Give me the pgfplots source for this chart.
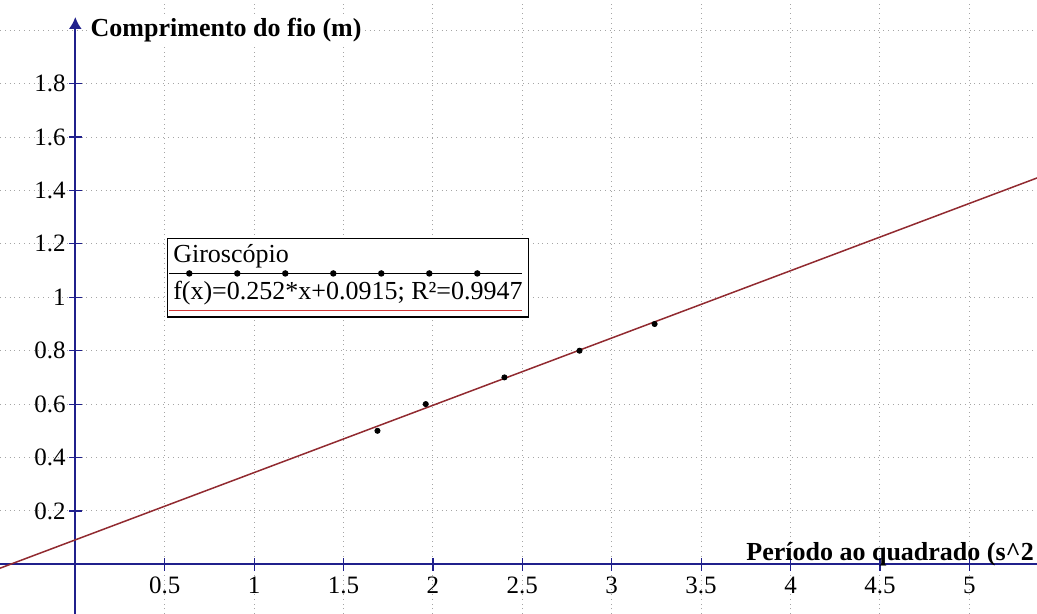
\documentclass[border=0pt]{standalone}
\usepackage{fontspec}
\setmainfont{Liberation Serif}
\usepackage{pgfplots}
\pgfplotsset{compat=1.18}
\usetikzlibrary{arrows.meta}

\definecolor{axisblue}{RGB}{32,32,140}
\definecolor{gridgray}{RGB}{165,165,165}
\definecolor{fitred}{RGB}{145,42,48}
\definecolor{legred}{RGB}{210,55,55}

% measured data: squared period (s^2) vs wire length (m)
\pgfplotstableread{
T2    L
1.69  0.50
1.96  0.60
2.40  0.70
2.82  0.80
3.24  0.90
}\giroscopio

% linear fit f(x)=0.252x+0.0915 evaluated at the ends of the window
\pgfplotstableread{
T2     L
-0.45  -0.0219
5.45   1.4649
}\ajuste

\begin{document}
\begin{tikzpicture}
\begin{axis}[
  name=ax,
  scale only axis,
  width=518.5pt, height=307pt,
  xmin=-0.4211, xmax=5.3786,
  ymin=-0.1861, ymax=2.1135,
  axis lines=middle,
  x axis line style={-, draw=axisblue, line width=1pt},
  y axis line style={-{Latex[length=6pt,width=6.5pt]}, draw=axisblue, line width=1pt, shorten >=8.5pt},
  xtick={0.5,1,1.5,2,2.5,3,3.5,4,4.5,5},
  ytick={0.2,0.4,0.6,0.8,1,1.2,1.4,1.6,1.8},
  extra y ticks={2},
  extra y tick labels={},
  extra y tick style={major tick length=0pt},
  tick align=center,
  major tick length=6.5pt,
  tick style={draw=axisblue, line width=0.6pt},
  grid=major,
  major grid style={draw=gridgray, dotted, line width=0.5pt},
  /pgf/number format/assume math mode=true,
  ticklabel style={font=\fontsize{12.5}{14}\selectfont, text=black},
  xticklabel style={anchor=north, yshift=0.5pt},
  yticklabel style={anchor=east, xshift=2pt},
  legend style={
    at={(axis cs:0.511,1.221)}, anchor=north west,
    draw=black, line width=0.6pt, fill=white,
    font=\fontsize{13}{15.6}\selectfont,
    inner xsep=1pt, inner ysep=1pt,
    row sep=1pt, column sep=0pt,
    cells={anchor=west, inner xsep=0.5pt},
  },
  legend cell align=left,
]
\addplot[only marks, mark=*, mark size=1.3pt, black,
  legend image code/.code={
    \draw[overlay, black, line width=0.5pt] (0pt,-9pt) -- (176.5pt,-9pt);
    \foreach \p in {10,34,58,82,106,130,154}
      \fill[overlay, black] (\p pt,-9pt) circle (1.3pt);
    \path[draw=none, fill=none] (0pt,-10pt) rectangle (0pt,0pt);
  }] table[x=T2, y=L] {\giroscopio};
\addlegendentry{Giroscópio}

\addplot[fitred, line width=0.75pt,
  legend image code/.code={
    \draw[overlay, legred, line width=0.45pt] (0pt,-9pt) -- (176.5pt,-9pt);
    \path[draw=none, fill=none] (0pt,-11.5pt) rectangle (0pt,0pt);
  }] table[x=T2, y=L] {\ajuste};
\addlegendentry{f(x)=0.252*x+0.0915; R²=0.9947}

\node[anchor=west, fill=white, inner sep=1pt, xshift=6.5pt,
      font=\fontsize{13}{15.6}\selectfont\bfseries]
  at (axis cs:0,2) {Comprimento do fio (m)};
\node[anchor=base west, inner sep=0pt, yshift=2pt,
      font=\fontsize{13}{15.6}\selectfont\bfseries]
  at (axis cs:3.751,0) {Período ao quadrado (s\string^2};
\end{axis}
\pgfresetboundingbox
\path[use as bounding box] (ax.south west) rectangle (ax.north east);
\end{tikzpicture}
\end{document}
